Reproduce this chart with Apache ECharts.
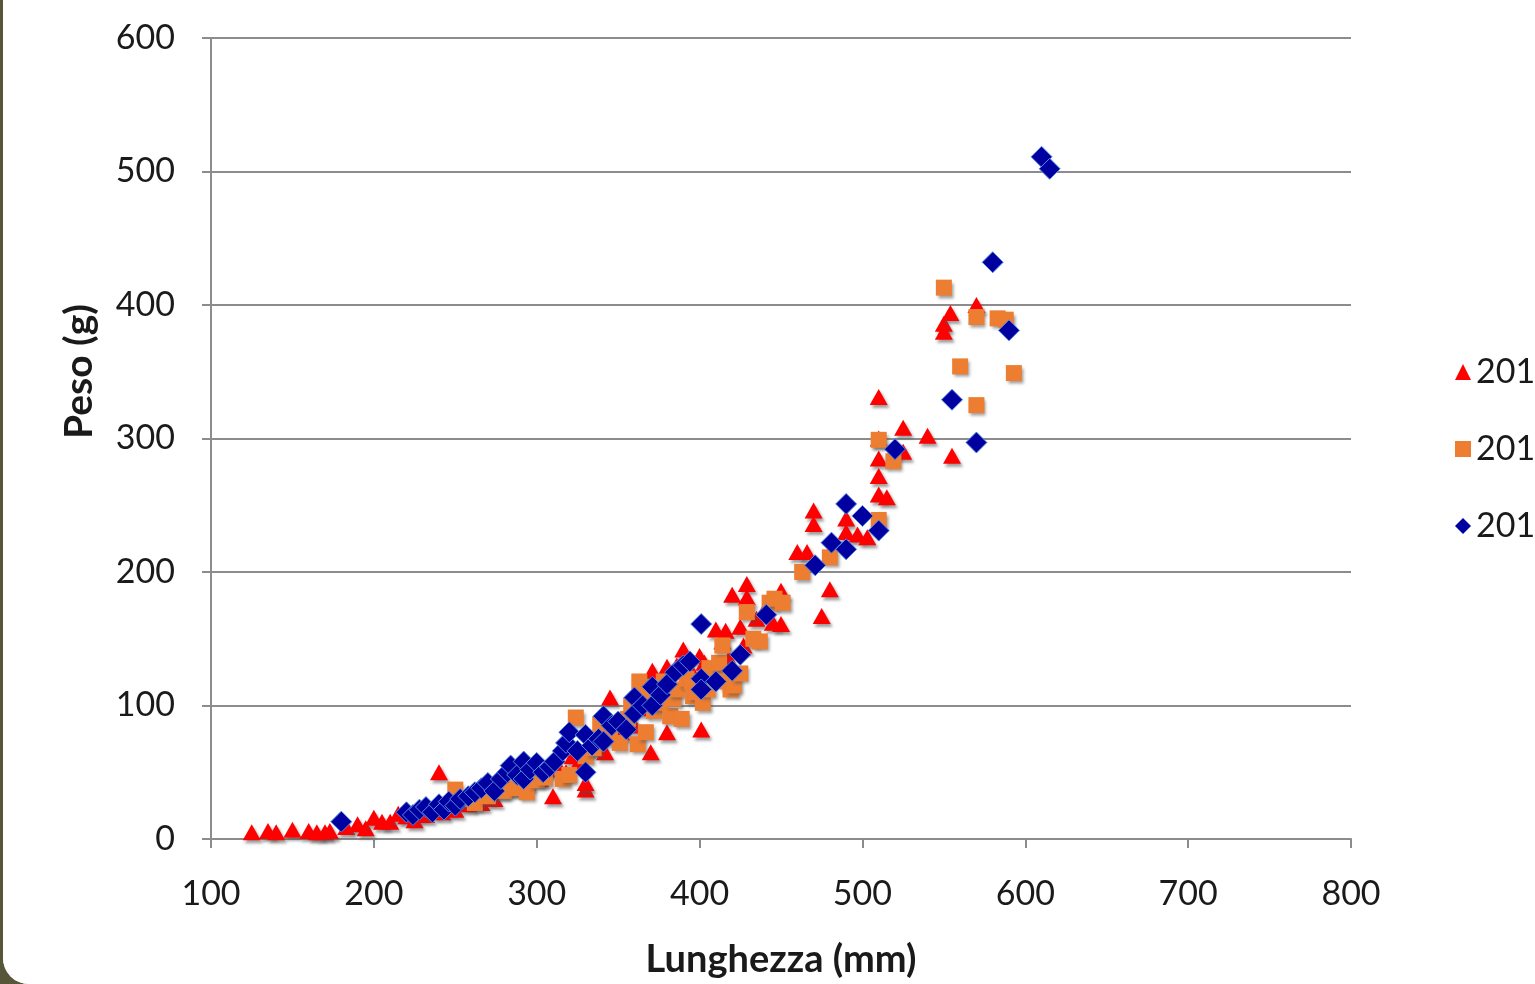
<!DOCTYPE html>
<html>
<head>
<meta charset="utf-8">
<script src="https://cdn.jsdelivr.net/npm/echarts@6/dist/echarts.min.js"></script>
<style>
  html, body { margin: 0; padding: 0; width: 100%; height: 100%; overflow: hidden; background: #57553a; }
  #frame { position: absolute; left: 3px; top: 0; width: 1600px; height: 984px; background: #fff; border-bottom-left-radius: 26px; overflow: hidden; }
  #chart { width: 1600px; height: 984px; }
</style>
</head>
<body>
<div id="frame"><div id="chart"></div></div>
<script>
// legend names (cut off at the right edge in the original)
const seriesNames = ['2012', '2013', '2014'];

// [lunghezza mm, peso g]
const pointsA = [
  [125,5],[135,6],[140,5],[150,7],[160,6],[165,5],[170,5],[173,6],[183,9],[190,11],[195,8],
  [200,16],[205,13],[210,13],[215,19],[220,17],[225,14],[228,20],[232,18],[236,22],[240,50],
  [242,20],[246,24],[250,22],[254,28],[258,26],[262,30],[266,27],[270,33],[274,30],[278,36],
  [282,40],[286,38],[290,44],[294,42],[298,48],[302,45],[306,52],[310,32],[313,55],[318,50],
  [322,62],[326,58],[330,37],[330,42],[334,68],[338,72],[342,65],[345,106],[348,88],[352,80],
  [356,92],[360,85],[364,98],[368,105],[370,65],[371,126],[373,118],[377,110],[380,80],[380,129],
  [386,130],[390,142],[394,128],[400,137],[401,82],[403,132],[410,157],[416,156],[414,148],
  [418,135],[420,183],[425,159],[427,145],[429,191],[429,181],[435,165],[440,172],[445,162],
  [450,186],[450,161],[460,215],[466,215],[470,246],[470,236],[475,167],[480,187],[490,240],
  [490,230],[497,228],[503,226],[510,331],[510,300],[510,285],[510,272],[510,258],[515,256],
  [525,308],[525,290],[540,302],[550,386],[550,380],[554,394],[555,287],[570,400]
];
const pointsB = [
  [250,37],[256,30],[262,27],[270,32],[280,36],[288,38],[294,35],[300,44],[305,46],[316,45],
  [320,48],[324,91],[330,62],[335,68],[339,86],[345,76],[351,72],[356,90],[358,100],[362,71],
  [363,118],[366,110],[367,80],[372,96],[376,102],[378,118],[382,92],[384,105],[386,112],[389,90],
  [392,120],[395,118],[396,107],[398,110],[402,102],[405,112],[406,128],[411,122],[412,132],
  [414,145],[417,118],[419,112],[421,115],[425,124],[429,170],[433,150],[437,148],
  [443,177],[446,180],[451,177],[463,200],[480,211],[510,299],[510,239],[519,283],[550,413],
  [560,354],[570,391],[570,325],[583,390],[588,389],[593,349]
];
const pointsC = [
  [180,13],[220,20],[224,18],[228,22],[232,24],[236,20],[240,26],[243,22],[246,28],[250,25],
  [253,30],[258,32],[262,35],[266,38],[270,42],[274,36],[278,45],[282,50],[284,55],[288,48],
  [292,58],[292,45],[296,52],[300,57],[304,50],[308,54],[311,58],[316,66],[318,72],[320,80],
  [325,66],[330,78],[330,50],[334,70],[338,75],[341,92],[341,73],[346,85],[350,88],[355,82],
  [360,106],[360,94],[365,100],[371,114],[371,100],[376,108],[380,116],[385,125],[390,130],
  [394,133],[401,161],[401,120],[401,112],[410,118],[420,126],[425,138],[441,168],[471,205],
  [481,222],[490,217],[490,251],[500,242],[510,231],[520,292],[555,329],[570,297],[580,432],
  [590,381],[610,511],[615,502]
];

const xTicks = { min: 100, max: 800, interval: 100 };
const yTicks = { min: 0, max: 600, interval: 100 };

const shadow = { shadowColor: 'rgba(80,80,80,0.55)', shadowBlur: 3, shadowOffsetX: 2, shadowOffsetY: 3 };

const chart = echarts.init(document.getElementById('chart'));
chart.setOption({
  backgroundColor: '#fff',
  animation: false,
  textStyle: { fontFamily: 'Lato, sans-serif' },
  grid: { left: 208, right: 252, top: 38, bottom: 144 },
  legend: {
    orient: 'vertical',
    left: 1447,
    top: 350,
    itemGap: 43,
    itemWidth: 16,
    itemHeight: 16,
    itemStyle: { borderWidth: 0, shadowBlur: 0 },
    textStyle: { fontSize: 34, color: '#1a1a1a', fontFamily: 'Lato, sans-serif' },
    data: seriesNames
  },
  xAxis: {
    type: 'value',
    min: xTicks.min, max: xTicks.max, interval: xTicks.interval,
    name: 'Lunghezza (mm)',
    nameLocation: 'middle',
    nameGap: 102,
    nameTextStyle: { fontSize: 38, fontWeight: 'bold', color: '#1a1a1a' },
    axisLine: { lineStyle: { color: '#8c8c8c', width: 2 } },
    axisTick: { show: true, length: 9, lineStyle: { color: '#8c8c8c', width: 2 } },
    axisLabel: { fontSize: 34, color: '#1a1a1a', margin: 38 },
    splitLine: { show: false }
  },
  yAxis: {
    type: 'value',
    min: yTicks.min, max: yTicks.max, interval: yTicks.interval,
    name: 'Peso (g)',
    nameLocation: 'middle',
    nameGap: 112,
    nameTextStyle: { fontSize: 39, fontWeight: 'bold', color: '#1a1a1a', padding: [0, 0, 0, 134] },
    axisLine: { show: true, lineStyle: { color: '#8c8c8c', width: 2 } },
    axisTick: { show: true, length: 9, lineStyle: { color: '#8c8c8c', width: 2 } },
    axisLabel: { fontSize: 34, color: '#1a1a1a', margin: 36 },
    splitLine: { show: true, lineStyle: { color: '#8c8c8c', width: 2 } }
  },
  series: [
    {
      name: seriesNames[0], type: 'scatter', symbol: 'triangle', symbolSize: [18, 16],
      itemStyle: Object.assign({ color: '#ff0000', opacity: 1 }, shadow),
      data: pointsA
    },
    {
      name: seriesNames[1], type: 'scatter', symbol: 'rect', symbolSize: 16,
      itemStyle: Object.assign({ color: '#ed7d31', opacity: 1 }, shadow),
      data: pointsB
    },
    {
      name: seriesNames[2], type: 'scatter', symbol: 'diamond', symbolSize: 21,
      itemStyle: { color: '#0000a0', borderColor: '#5a8ae0', borderWidth: 1, opacity: 1 },
      data: pointsC
    }
  ]
});
</script>
</body>
</html>
